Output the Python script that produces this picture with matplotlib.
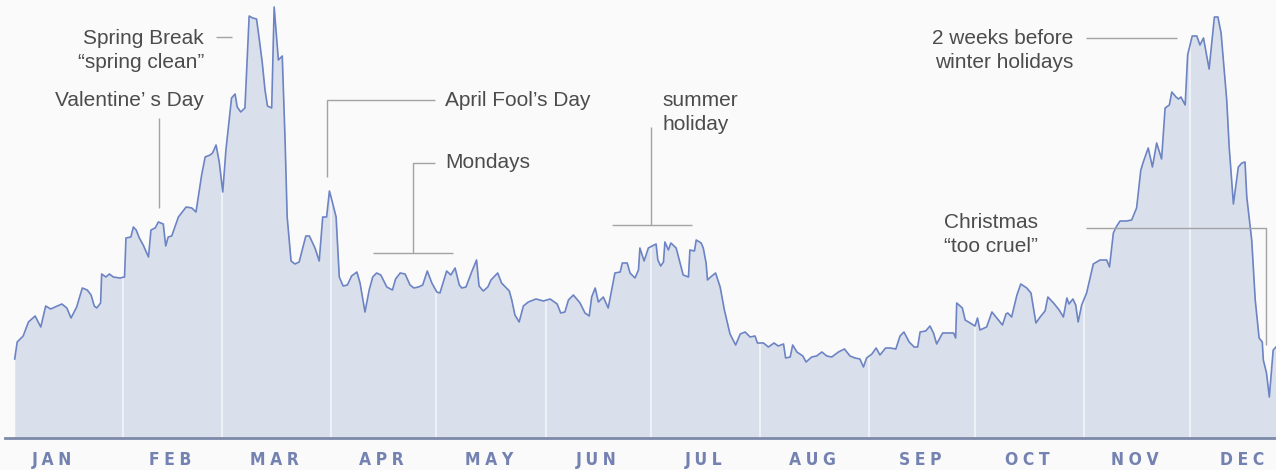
import numpy as np
import matplotlib
matplotlib.use("Agg")
import matplotlib.pyplot as plt
from matplotlib.transforms import blended_transform_factory

# day of year (0 = 1 Jan) and relative number of break-up posts
day = [
    0.2, 0.9, 2.6, 4.1, 6.0, 7.6, 9.0, 10.4, 13.6, 15.0, 16.2, 17.8,
    19.4, 20.8, 21.9, 22.8, 23.5, 24.6, 24.9, 26.1, 27.1, 28.2, 30.1, 31.4,
    31.8, 33.2, 33.9, 34.7, 35.6, 36.7, 38.2, 38.9, 40.1, 41.0, 42.4, 43.1,
    43.8, 44.8, 46.7, 48.9, 50.5, 51.7, 53.3, 54.3, 55.7, 56.4, 57.4, 58.3,
    59.3, 60.2, 60.9, 61.8, 62.8, 63.4, 64.4, 65.6, 66.8, 67.8, 68.9, 69.7,
    70.5, 71.3, 72.0, 73.2, 73.9, 75.1, 76.2, 77.0, 77.6, 78.7, 79.8, 81.0,
    82.9, 83.9, 85.5, 86.7, 87.7, 88.8, 89.6, 90.5, 91.5, 92.4, 93.5, 94.7,
    95.9, 97.4, 98.3, 99.7, 100.9, 101.9, 103.0, 104.2, 105.9, 107.5, 108.4, 109.7,
    111.1, 112.5, 113.6, 114.9, 116.1, 117.4, 118.7, 120.1, 121.0, 122.9, 124.1, 125.3,
    126.5, 127.2, 128.4, 130.0, 131.4, 132.1, 133.3, 134.6, 135.5, 137.4, 138.5, 140.7,
    141.4, 142.3, 143.5, 144.7, 146.1, 148.3, 150.4, 152.3, 154.3, 155.3, 156.5, 157.5,
    158.9, 160.8, 162.2, 163.4, 164.1, 165.1, 166.0, 167.4, 168.8, 170.7, 172.2, 172.8,
    174.2, 175.0, 176.4, 177.4, 177.8, 179.0, 180.2, 182.4, 182.9, 183.7, 184.5, 184.9,
    185.9, 186.6, 188.1, 189.2, 190.1, 191.6, 192.0, 193.3, 193.8, 195.2, 195.8, 196.6,
    197.0, 197.9, 199.3, 200.6, 201.8, 203.4, 205.0, 206.3, 207.7, 209.1, 210.5, 211.2,
    212.9, 214.3, 215.9, 217.1, 218.6, 219.2, 220.5, 221.2, 222.4, 224.1, 225.0, 226.6,
    228.0, 229.5, 230.9, 232.3, 234.2, 235.9, 237.5, 238.9, 240.3, 241.3, 242.2, 243.7,
    244.9, 246.0, 247.6, 248.9, 250.5, 251.7, 252.8, 254.3, 255.7, 256.7, 257.4, 259.0,
    260.2, 261.2, 262.1, 263.8, 265.6, 266.9, 267.5, 267.8, 269.4, 270.2, 271.6, 273.0,
    273.7, 274.4, 276.3, 277.8, 279.2, 280.8, 281.8, 282.3, 283.4, 284.9, 286.0, 287.7,
    288.9, 290.3, 291.5, 292.9, 293.7, 295.3, 296.9, 298.1, 299.1, 299.7, 300.8, 301.6,
    302.3, 303.3, 304.7, 306.6, 308.5, 310.4, 311.2, 312.3, 313.1, 314.2, 316.1, 317.5,
    318.9, 320.1, 320.8, 322.2, 323.4, 324.6, 326.0, 327.0, 328.2, 328.9, 330.1, 330.8,
    331.5, 332.7, 333.4, 334.7, 336.0, 336.9, 337.9, 339.5, 341.0, 342.0, 342.9, 344.5,
    345.2, 346.4, 347.8, 348.8, 349.7, 350.2, 351.6, 352.6, 353.7, 354.6, 354.9, 355.8,
    356.6, 357.7, 358.5,
]
breakups = [
    78, 95, 101, 115, 121, 110, 131, 128, 133, 129, 119, 130,
    149, 147, 142, 131, 129, 134, 163, 160, 163, 160, 159, 160,
    199, 200, 210, 207, 199, 192, 180, 207, 209, 215, 213, 191,
    200, 201, 220, 230, 229, 225, 262, 280, 282, 284, 292, 275,
    245, 287, 310, 339, 343, 330, 325, 329, 421, 419, 418, 397,
    375, 347, 331, 329, 430, 377, 381, 297, 220, 176, 173, 175,
    201, 201, 189, 176, 220, 220, 246, 234, 220, 160, 151, 152,
    161, 165, 154, 125, 147, 160, 164, 162, 150, 147, 158, 164,
    163, 152, 149, 150, 152, 166, 154, 145, 144, 166, 162, 169,
    152, 149, 150, 165, 177, 151, 146, 150, 157, 164, 154, 146,
    137, 122, 115, 131, 135, 138, 136, 138, 133, 124, 125, 137,
    142, 134, 124, 121, 140, 149, 135, 140, 129, 164, 165, 174,
    174, 164, 159, 167, 189, 176, 189, 193, 177, 171, 175, 195,
    187, 194, 189, 174, 162, 160, 187, 186, 197, 194, 189, 174,
    157, 160, 164, 150, 127, 103, 92, 103, 105, 100, 101, 94,
    94, 90, 94, 91, 93, 79, 80, 92, 85, 81, 75, 80,
    81, 85, 81, 80, 85, 88, 81, 79, 78, 70, 79, 83,
    89, 82, 89, 89, 88, 101, 105, 95, 90, 90, 105, 106,
    111, 104, 93, 104, 104, 104, 99, 134, 129, 117, 114, 111,
    119, 107, 110, 125, 119, 112, 123, 124, 120, 142, 153, 149,
    144, 114, 120, 126, 140, 134, 127, 120, 139, 133, 138, 132,
    115, 132, 144, 173, 177, 177, 170, 204, 210, 216, 216, 217,
    229, 267, 275, 289, 270, 294, 278, 329, 332, 345, 340, 338,
    340, 332, 382, 401, 401, 392, 399, 368, 420, 420, 404, 337,
    290, 233, 270, 274, 275, 240, 197, 137, 99, 95, 77, 64,
    40, 87, 90,
]
assert len(day) == len(breakups)

months = ["JAN", "FEB", "MAR", "APR", "MAY", "JUN",
          "JUL", "AUG", "SEP", "OCT", "NOV", "DEC"]
month_start = [0, 31, 59, 90, 120, 151, 181, 212, 243, 273, 304, 334, 365]

day = np.array(day)
breakups = np.array(breakups, dtype=float)

bg = "#fafafa"
line_col = "#6c83c4"
fill_col = "#d9e0eb"
lead_col = "#a3a3a3"
text_col = "#4c4c4c"
month_col = "#7482b2"

fig = plt.figure(figsize=(12.76, 4.70), dpi=100, facecolor=bg)
ax = fig.add_axes([5 / 1276, 32 / 470, 1271 / 1276, 438 / 470])
ax.set_facecolor(bg)
ax.set_xlim(-2.56, 358.5)
ax.set_ylim(-1, 437)

ax.fill_between(day, 0, breakups, color=fill_col, lw=0, zorder=1)

# white month separators inside the filled area
for m in month_start[1:-1]:
    top = np.interp(m, day, breakups)
    ax.plot([m, m], [0, top], color="#f1f3f8", lw=1.3, zorder=2)

ax.plot(day, breakups, color=line_col, lw=1.2, zorder=3, solid_joinstyle="round")

for s in ["top", "right", "left"]:
    ax.spines[s].set_visible(False)
ax.spines["bottom"].set_color("#7d89a9")
ax.spines["bottom"].set_linewidth(2)
ax.set_xticks([])
ax.set_yticks([])

# month labels under the axis (JAN sits a bit left of its month centre)
trans = blended_transform_factory(ax.transData, fig.transFigure)
for i, name in enumerate(months):
    x = (month_start[i] + month_start[i + 1]) / 2 - 0.6
    if i == 0:
        x -= 4.0
    ax.text(x, 10 / 470, "\u2009\u200a".join(name), transform=trans, ha="center",
            va="center", fontsize=12.5, fontweight="bold", color=month_col,
            family="DejaVu Sans", fontstretch="condensed")

# annotations
fs = 15
fam = ["Liberation Sans", "DejaVu Sans"]


def note(x, y, s, ha="left"):
    ax.text(x, y, s, ha=ha, va="center", fontsize=fs, color=text_col, family=fam)


def lead(xs, ys):
    ax.plot(xs, ys, color=lead_col, lw=1.0, zorder=4, solid_capstyle="butt")


note(54.0, 399, "Spring Break", ha="right")
note(54.0, 374, "\u201cspring clean\u201d", ha="right")
lead([57.4, 61.9], [400, 400])

note(54.0, 337, "Valentine\u2019 s Day", ha="right")
lead([41.2, 41.2], [319, 229])

note(122.4, 337, "April Fool\u2019s Day")
lead([119.6, 88.9, 88.9], [337, 337, 260])

note(122.4, 275, "Mondays")
lead([119.6, 113.3, 113.3], [274, 274, 184])
lead([102.0, 124.7], [184, 184])

note(184.1, 336, "summer")
note(184.1, 313, "holiday")
lead([181.0, 181.0], [310, 212])
lead([169.9, 192.6], [212, 212])

note(300.9, 399, "2 weeks before", ha="right")
note(300.9, 375, "winter holidays", ha="right")
lead([304.5, 330.4], [399, 399])

note(277.6, 214, "Christmas", ha="center")
note(277.6, 190, "\u201ctoo cruel\u201d", ha="center")
lead([304.5, 355.7, 355.7], [209, 209, 92])

fig.savefig("out.png", dpi=100, facecolor=bg)
